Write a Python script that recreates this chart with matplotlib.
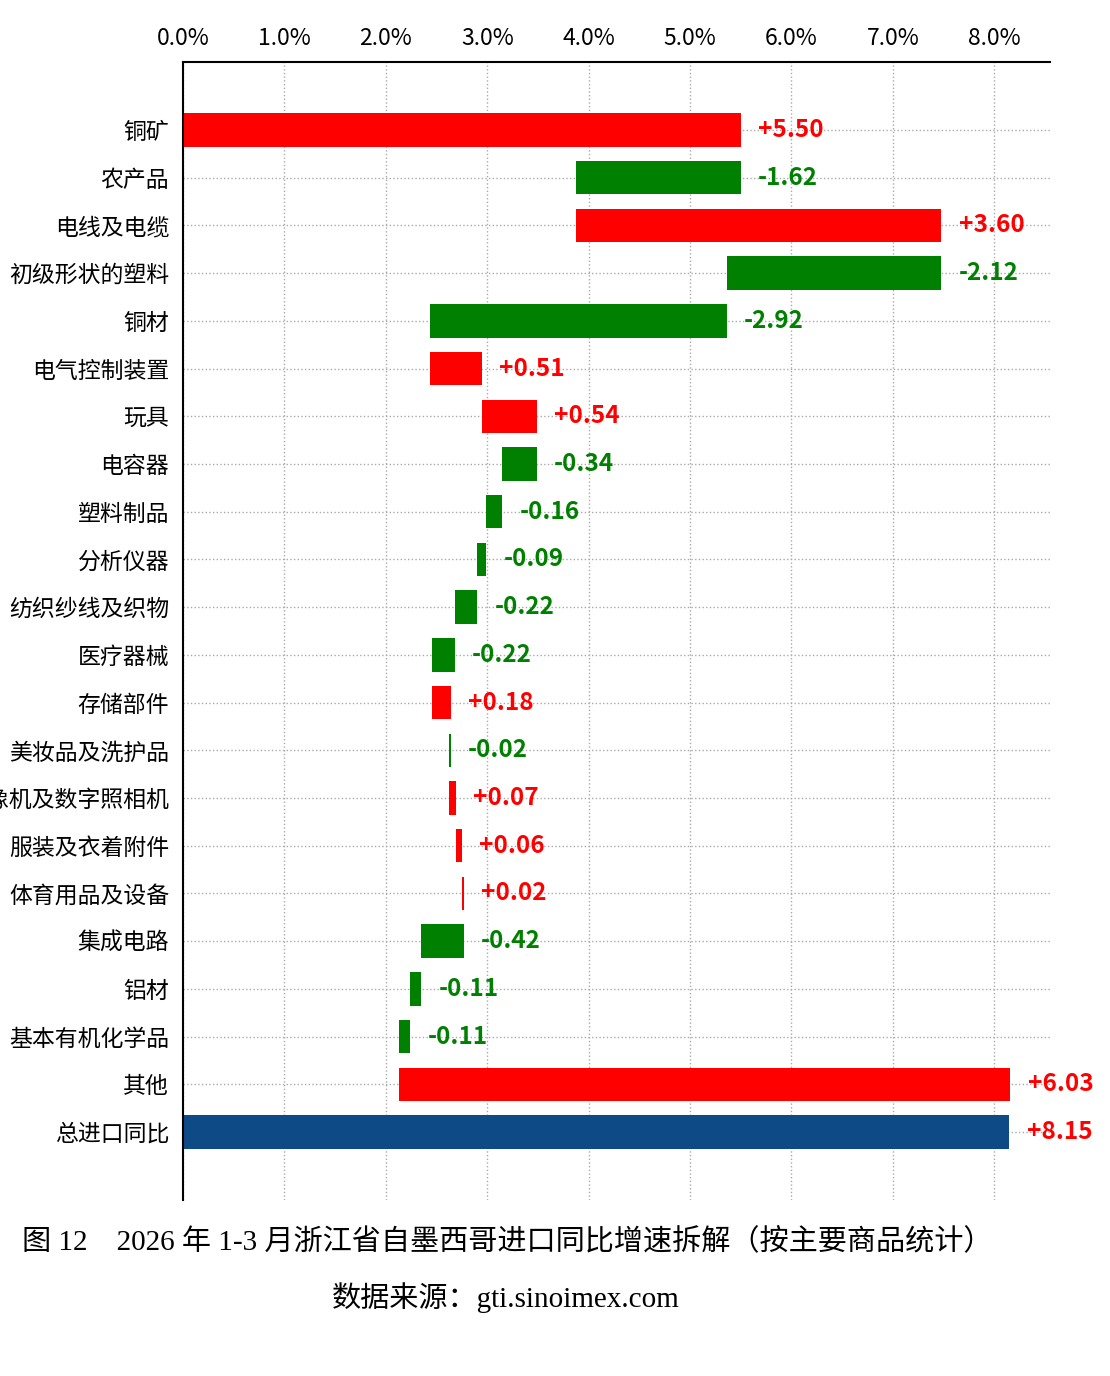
import matplotlib
matplotlib.use("Agg")
import matplotlib.pyplot as plt
import numpy as np

categories = ["铜矿", "农产品", "电线及电缆", "初级形状的塑料", "铜材", "电气控制装置", "玩具",
              "电容器", "塑料制品", "分析仪器", "纺织纱线及织物", "医疗器械", "存储部件",
              "美妆品及洗护品", "摄像机及数字照相机", "服装及衣着附件", "体育用品及设备",
              "集成电路", "铝材", "基本有机化学品", "其他"]
changes = [5.50, -1.62, 3.60, -2.12, -2.92, 0.51, 0.54, -0.34, -0.16, -0.09, -0.22,
           -0.22, 0.18, -0.02, 0.07, 0.06, 0.02, -0.42, -0.11, -0.11, 6.03]
total_label = "总进口同比"
total_value = 8.15
xticks = [0, 1, 2, 3, 4, 5, 6, 7, 8]

RED = "#FF0000"
GREEN = "#008000"
BLUE = "#0E4A86"

plt.rcParams['font.family'] = ['Noto Sans CJK SC', 'DejaVu Sans']

fig = plt.figure(figsize=(11.10, 13.76), dpi=100)
ax = fig.add_axes([183/1110, 1-1200/1376, (1050-183)/1110, (1200-62)/1376])

n = len(categories)
ypos = np.arange(n + 1)
starts = np.concatenate([[0], np.cumsum(changes)[:-1]])
for i, (s, c) in enumerate(zip(starts, changes)):
    col = RED if c >= 0 else GREEN
    ax.barh(i, c, left=s, height=0.7, color=col, zorder=2)
    right = max(s, s + c)
    ax.text(right + 0.17, i, f"{c:+.2f}", color=col, fontweight='bold',
            fontsize=17.5, va='center', ha='left', zorder=3)
ax.barh(n, total_value, left=0, height=0.7, color=BLUE, zorder=2)
ax.text(total_value + 0.17, n, f"{total_value:+.2f}", color=RED, fontweight='bold',
        fontsize=17.5, va='center', ha='left', zorder=3)

ax.set_yticks(ypos)
ax.set_yticklabels(categories + [total_label], fontsize=16.5)
ax.set_ylim(n + 1.425, -1.425)
ax.set_xlim(0, (1050-183)/101.4)
ax.set_xticks(xticks)
ax.set_xticklabels([f"{t:.1f}%" for t in xticks], fontsize=16.5)
ax.xaxis.tick_top()
ax.tick_params(axis='x', length=0, pad=8.5)
ax.tick_params(axis='y', length=0, pad=10)
for sp in ['right', 'bottom']:
    ax.spines[sp].set_visible(False)
ax.spines['left'].set_linewidth(1.5)
ax.spines['top'].set_linewidth(1.5)
ax.grid(True, linestyle=':', color='#AAAAAA', linewidth=1.0, zorder=0)
ax.set_axisbelow(True)

serif = ['Liberation Serif', 'Noto Sans CJK SC']
fig.text(22/1110, 1-1242/1376, "图 12　2026 年 1-3 月浙江省自墨西哥进口同比增速拆解（按主要商品统计）",
         fontsize=21, family=serif, ha='left', va='center')
fig.text(506/1110, 1-1298/1376, "数据来源：gti.sinoimex.com",
         fontsize=21, family=serif, ha='center', va='center')

fig.savefig("out.png", dpi=100)
